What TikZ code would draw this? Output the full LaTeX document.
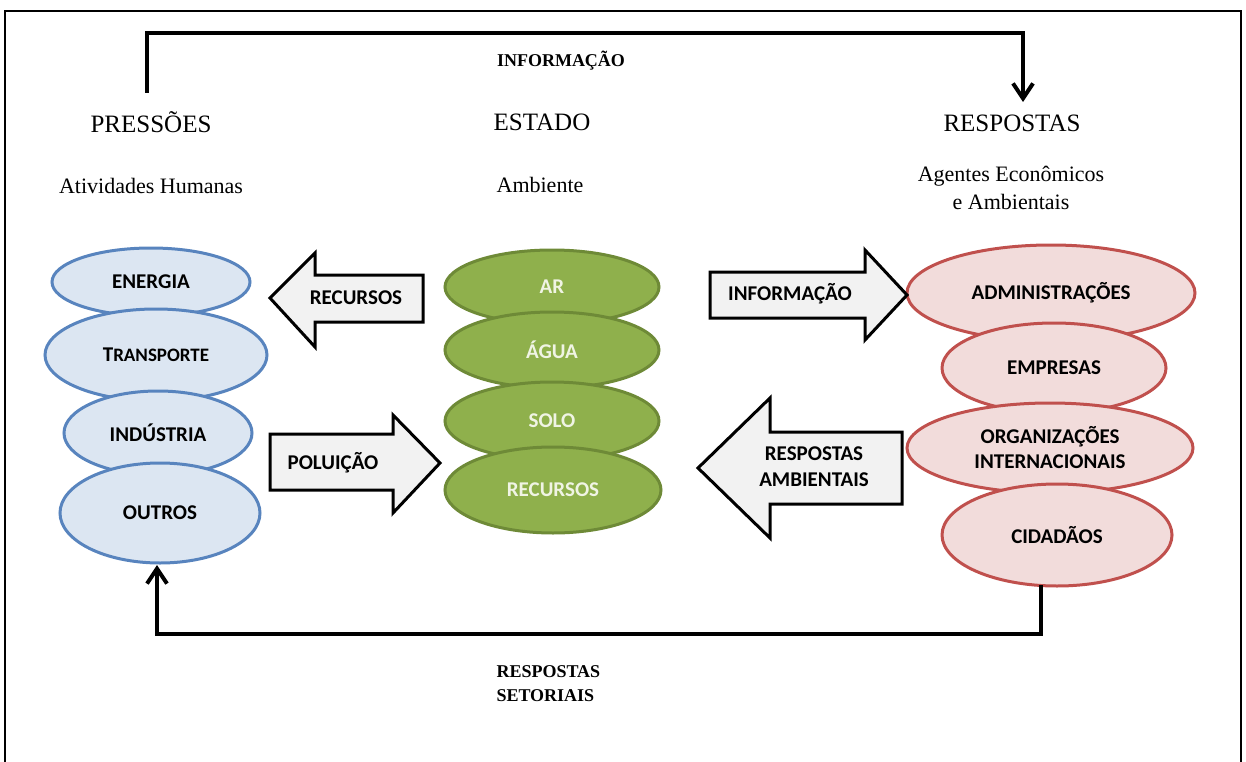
\documentclass[tikz,border=0pt]{standalone}
\usepackage{fontspec}
\setmainfont{Liberation Serif}
\newfontfamily\calib{Carlito}
\usetikzlibrary{shapes.geometric,arrows.meta}

\definecolor{blueFill}{RGB}{220,230,242}
\definecolor{blueLine}{RGB}{88,132,190}
\definecolor{greenFill}{RGB}{143,176,76}
\definecolor{greenLine}{RGB}{110,138,55}
\definecolor{greenText}{RGB}{240,244,228}
\definecolor{pinkFill}{RGB}{242,220,219}
\definecolor{pinkLine}{RGB}{192,80,77}
\definecolor{blockFill}{RGB}{242,242,242}

\tikzset{
  heading/.style={font=\fontsize{25}{28}\selectfont},
  subheading/.style={font=\fontsize{22}{28}\selectfont, align=center},
  flowlabel/.style={font=\bfseries\fontsize{18}{22}\selectfont, align=left},
  ellbase/.style={ellipse, line width=3pt, inner sep=0pt, align=center,
    font=\calib\bfseries\fontsize{21}{25}\selectfont},
  pressao/.style={ellbase, draw=blueLine, fill=blueFill, text=black},
  estado/.style={ellbase, draw=greenLine, fill=greenFill, text=greenText},
  resposta/.style={ellbase, draw=pinkLine, fill=pinkFill, text=black},
  blockarrow/.style={draw=black, fill=blockFill, line width=3pt, line join=miter},
  blocktext/.style={font=\calib\bfseries\fontsize{21}{26}\selectfont, align=center},
  conn/.style={line width=4.5pt, line join=miter,
    -{Straight Barb[length=15pt,width=20pt,line width=4pt]}},
}

\begin{document}
\begin{tikzpicture}[x=1pt,y=-1pt]
\useasboundingbox (0,0) rectangle (1246,762);

% outer frame
\draw[line width=2pt] (5,11) rectangle (1241,790);

% column headings
\node[heading] (hPress) at (151,122) {PRESSÕES};
\node[heading] (hEstado) at (542,122) {ESTADO};
\node[heading] (hResp) at (1012,123) {RESPOSTAS};
\node[subheading] (sPress) at (151,186) {Atividades Humanas};
\node[subheading] (sEstado) at (540,185) {Ambiente};
\node[subheading] (sResp) at (1011,188) {Agentes Econômicos\\e Ambientais};

% pressures stack
\node[pressao, minimum width=198pt, minimum height=68pt] (energia) at (151,282) {ENERGIA};
\node[pressao, minimum width=222pt, minimum height=92pt] (transporte) at (156,355) {T{\fontsize{19}{25}\selectfont RANSPORTE}};
\node[pressao, minimum width=188pt, minimum height=84pt] (industria) at (158,433) {INDÚSTRIA};
\node[pressao, minimum width=200pt, minimum height=100pt] (outros) at (160,513) {OUTROS};

% state stack
\node[estado, minimum width=214pt, minimum height=74pt] (ar) at (552,287) {AR};
\node[estado, minimum width=214pt, minimum height=76pt] (agua) at (552,350) {ÁGUA};
\node[estado, minimum width=214pt, minimum height=78pt] (solo) at (552,421) {SOLO};
\node[estado, minimum width=216pt, minimum height=86pt] (recursosE) at (553,490) {RECURSOS};

% responses stack
\node[resposta, minimum width=288pt, minimum height=96pt] (admin) at (1051,293) {ADMINISTRAÇÕES};
\node[resposta, minimum width=224pt, minimum height=90pt] (empresas) at (1054,368) {EMPRESAS};
\node[resposta, minimum width=286pt, minimum height=90pt] (orgs) at (1050,448) {ORGANIZAÇÕES\\INTERNACIONAIS};
\node[resposta, minimum width=230pt, minimum height=102pt] (cidadaos) at (1057,535) {CIDADÃOS};

% block arrows
\draw[blockarrow] (423,275) -- (315,275) -- (315,253) -- (270,298) -- (315,347) -- (315,322) -- (423,322) -- cycle;
\node[blocktext] (tRecursos) at (356,298) {RECURSOS};

\draw[blockarrow] (270,434) -- (393,434) -- (393,415) -- (440,463) -- (393,513) -- (393,490) -- (270,490) -- cycle;
\node[blocktext] (tPoluicao) at (333,463) {POLUIÇÃO};

\draw[blockarrow] (710,272) -- (865,272) -- (865,250) -- (907,295) -- (865,340) -- (865,318) -- (710,318) -- cycle;
\node[blocktext] (tInfo) at (790,294) {INFORMAÇÃO};

\draw[blockarrow] (902,432) -- (770,432) -- (770,398) -- (698,468) -- (770,538) -- (770,504) -- (902,504) -- cycle;
\node[blocktext] (tRespAmb) at (814,467) {RESPOSTAS\\AMBIENTAIS};

% information loop
\coordinate (topL) at (147,93);
\coordinate (topMid) at (585,33);
\coordinate (topR) at (1023,102);
\draw[conn] (topL) |- (topMid) -| (topR);
\node[flowlabel] (lInfo) at (561,61) {INFORMAÇÃO};

% sectoral responses loop
\coordinate (botR) at (1041,585);
\coordinate (botMid) at (600,634);
\coordinate (botL) at (157,565);
\draw[conn] (botR) |- (botMid) -| (botL);
\node[flowlabel, anchor=north west, font=\bfseries\fontsize{18}{24}\selectfont] (lSet) at (493,662) {RESPOSTAS\\SETORIAIS};
\end{tikzpicture}
\end{document}
